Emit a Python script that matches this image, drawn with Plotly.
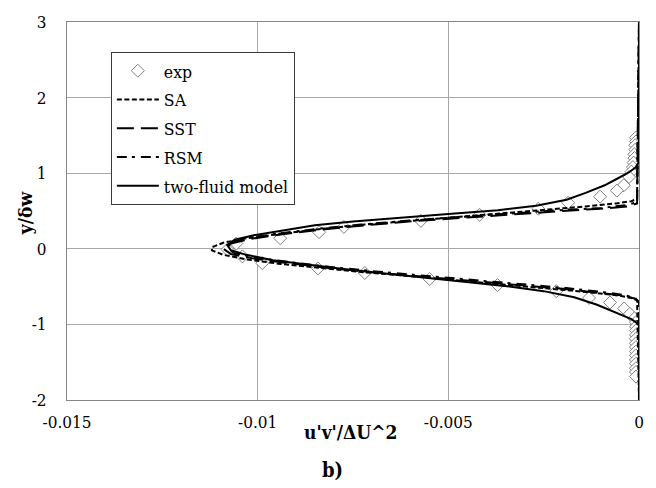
import plotly.graph_objects as go

# Experimental Reynolds shear stress profile
exp_x = [-0.00008, -0.00008, -0.0001, -0.0001, -0.00012, -0.00012, -0.00014, -0.00016,
         -0.0002, -0.00026, -0.0004, -0.00058, -0.00102, -0.00186, -0.00264, -0.00418,
         -0.00572, -0.00774, -0.00839, -0.00941, -0.01056, -0.01079, -0.0104, -0.00988,
         -0.00842, -0.00719, -0.00549, -0.00371, -0.00217, -0.00131, -0.00076, -0.00039,
         -0.00024, -0.00012, -0.00008, -0.00008, -0.00008, -0.00008, -0.00008, -0.00008,
         -0.00008, -0.00008, -0.00008, -0.00008, -0.00008, -0.00008, -0.00008, -0.00008]
exp_y = [1.47, 1.42, 1.37, 1.31, 1.25, 1.20, 1.14, 1.08,
         1.02, 0.95, 0.84, 0.77, 0.69, 0.61, 0.53, 0.45,
         0.37, 0.29, 0.22, 0.14, 0.07, -0.01, -0.10, -0.19,
         -0.26, -0.32, -0.40, -0.48, -0.56, -0.65, -0.71, -0.79,
         -0.86, -0.92, -0.97, -1.03, -1.08, -1.14, -1.19, -1.25,
         -1.30, -1.36, -1.41, -1.47, -1.52, -1.58, -1.63, -1.69]

# Spalart-Allmaras
sa_x = [0, -0.00005, -0.0002, -0.0006, -0.0014, -0.0024, -0.0033, -0.0045, -0.0058,
        -0.0072, -0.0084, -0.0094, -0.0103, -0.0109, -0.0112, -0.0112, -0.0109, -0.0103,
        -0.0094, -0.0084, -0.0072, -0.0058, -0.0045, -0.0033, -0.0022, -0.0012, -0.0005,
        -0.0002, -0.00005, 0]
sa_y = [3, 0.66, 0.63, 0.60, 0.56, 0.52, 0.48, 0.43, 0.38,
        0.32, 0.26, 0.20, 0.14, 0.08, 0.02, -0.02, -0.08, -0.14,
        -0.20, -0.25, -0.31, -0.37, -0.43, -0.48, -0.53, -0.58, -0.62,
        -0.65, -0.68, -2]

# k-omega SST
sst_x = [0, -0.00005, -0.0003, -0.001, -0.002, -0.0032, -0.0045, -0.0058, -0.0072,
         -0.0084, -0.0094, -0.0102, -0.0107, -0.0109, -0.0107, -0.0101, -0.0092, -0.0082,
         -0.0070, -0.0056, -0.0043, -0.0031, -0.0020, -0.0011, -0.0004, -0.0001, 0, 0]
sst_y = [3, 0.60, 0.56, 0.53, 0.50, 0.46, 0.42, 0.37, 0.31,
         0.25, 0.19, 0.13, 0.07, 0.0, -0.07, -0.13, -0.19, -0.25,
         -0.31, -0.37, -0.43, -0.48, -0.53, -0.58, -0.62, -0.66, -0.70, -2]

# Reynolds stress model
rsm_x = [0, -0.00005, -0.0003, -0.0010, -0.0021, -0.0033, -0.0046, -0.0059, -0.0073,
         -0.0085, -0.0095, -0.0103, -0.0107, -0.0108, -0.0106, -0.0100, -0.0091, -0.0081,
         -0.0069, -0.0055, -0.0042, -0.0030, -0.0019, -0.0010, -0.0004, -0.0001, 0, 0]
rsm_y = [3, 0.62, 0.58, 0.54, 0.51, 0.47, 0.43, 0.38, 0.32,
         0.26, 0.20, 0.14, 0.08, 0.01, -0.06, -0.12, -0.18, -0.24,
         -0.30, -0.36, -0.42, -0.47, -0.52, -0.57, -0.61, -0.65, -0.72, -2]

# Two-fluid model
tf_x = [0, 0, -0.0001, -0.0003, -0.0006, -0.0009, -0.0014, -0.0019, -0.0027, -0.0037,
        -0.0050, -0.0063, -0.0075, -0.0085, -0.0094, -0.0101, -0.0106, -0.0108, -0.0107,
        -0.0103, -0.0096, -0.0087, -0.0077, -0.0066, -0.0055, -0.0044, -0.0034, -0.0025,
        -0.0017, -0.0011, -0.0006, -0.0002, 0, 0]
tf_y = [3, 1.15, 1.07, 1.00, 0.92, 0.84, 0.74, 0.65, 0.57, 0.51,
        0.46, 0.41, 0.36, 0.31, 0.24, 0.18, 0.12, 0.05, -0.02,
        -0.08, -0.15, -0.21, -0.27, -0.33, -0.39, -0.45, -0.50, -0.56,
        -0.64, -0.74, -0.84, -0.93, -1.00, -2]

x_ticks = [-0.015, -0.01, -0.005, 0]
x_tick_text = ["-0.015", "-0.01", "-0.005", "0"]
y_ticks = [-2, -1, 0, 1, 2, 3]
y_tick_text = ["-2", "-1", "0", "1", "2", "3"]

FONT = "DejaVu Serif Condensed"

fig = go.Figure()
fig.add_trace(go.Scatter(
    x=exp_x, y=exp_y, mode="markers", name="exp", legendgroup="a",
    marker=dict(symbol="diamond", size=10, color="white",
                line=dict(color="#7f7f7f", width=1))))
fig.add_trace(go.Scatter(
    x=sa_x, y=sa_y, mode="lines", name="SA", legendgroup="b",
    line=dict(color="black", width=2, dash="5px,2.5px")))
fig.add_trace(go.Scatter(
    x=sst_x, y=sst_y, mode="lines", name="SST", legendgroup="c",
    line=dict(color="black", width=2, dash="17px,7px")))
fig.add_trace(go.Scatter(
    x=rsm_x, y=rsm_y, mode="lines", name="RSM", legendgroup="d",
    line=dict(color="black", width=2, dash="10px,5px,3px,6px")))
fig.add_trace(go.Scatter(
    x=tf_x, y=tf_y, mode="lines", name="two-fluid model", legendgroup="e",
    line=dict(color="black", width=2)))

axis_common = dict(
    showgrid=True, gridcolor="#a8a8a8", gridwidth=1,
    showline=True, linecolor="#868686", linewidth=1, mirror=True,
    zeroline=False, ticks="",
    tickfont=dict(family=FONT, size=17, color="black"),
)
fig.update_xaxes(range=[-0.015, 0], tickvals=x_ticks, ticktext=x_tick_text,
                 ticklabelstandoff=7, **axis_common)
fig.update_yaxes(range=[-2, 3], tickvals=y_ticks, ticktext=y_tick_text,
                 ticklabelstandoff=16, **axis_common)

fig.update_layout(
    width=656, height=488,
    margin=dict(l=67, r=15, t=18, b=88),
    paper_bgcolor="white", plot_bgcolor="white",
    font=dict(family=FONT, color="black"),
    legend=dict(
        x=0.0767, y=0.921, xanchor="left", yanchor="top",
        bgcolor="white", bordercolor="#3a3a3a", borderwidth=1,
        font=dict(family=FONT, size=17.5, color="black"),
        traceorder="grouped", tracegroupgap=3, itemwidth=42,
    ),
    annotations=[
        dict(text="<b>y/δw</b>", textangle=-90, xref="paper", yref="paper",
             x=(25 - 67) / 574, y=(400 - 211) / 382, xanchor="center", yanchor="middle",
             showarrow=False, font=dict(family=FONT, size=19, color="black")),
        dict(text="<b>u'v'/ΔU^2</b>", xref="paper", yref="paper",
             x=(351 - 67) / 574, y=-(432 - 400) / 382, xanchor="center", yanchor="middle",
             showarrow=False, font=dict(family=FONT, size=19, color="black")),
        dict(text="<b>b)</b>", xref="paper", yref="paper",
             x=(333 - 67) / 574, y=-(471 - 400) / 382, xanchor="center", yanchor="middle",
             showarrow=False, font=dict(family=FONT, size=20, color="black")),
    ],
)

fig.write_html("out.html")
